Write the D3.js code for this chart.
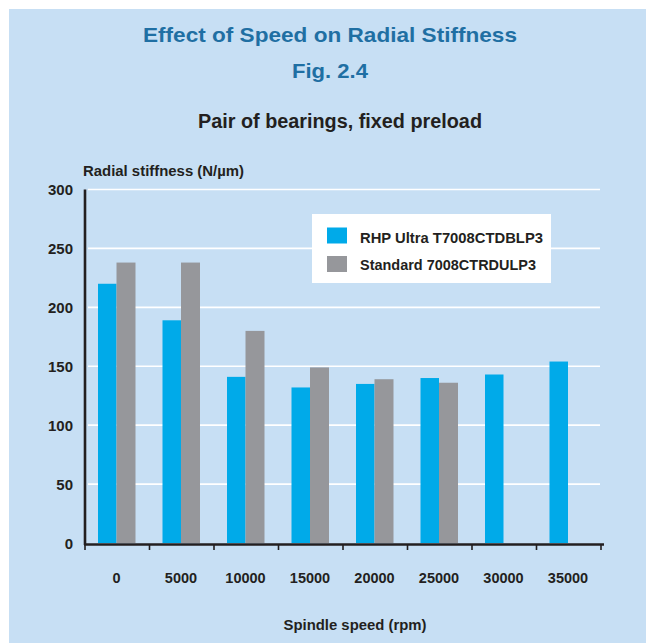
<!DOCTYPE html>
<html>
<head>
<meta charset="utf-8">
<script src="https://cdn.jsdelivr.net/npm/d3@7"></script>
<style>
  html, body { margin: 0; padding: 0; background: #ffffff; }
  svg { display: block; }
  text { font-family: "Liberation Sans", Arial, sans-serif; font-weight: bold; }
</style>
</head>
<body>
<svg id="chart" width="646" height="643"></svg>
<script>
// Radial stiffness (N/µm) of a bearing pair at each spindle speed
const speeds = ["0", "5000", "10000", "15000", "20000", "25000", "30000", "35000"];
const rhpUltra = [220, 189, 141, 132, 135, 140, 143, 154];
const standard = [238, 238, 180, 149, 139, 136, null, null];
const yTicks = [0, 50, 100, 150, 200, 250, 300];
const seriesNames = ["RHP Ultra T7008CTDBLP3", "Standard 7008CTRDULP3"];
const seriesColors = ["#00aae9", "#96979b"];

const svg = d3.select("#chart");

// Panel background
svg.append("rect")
  .attr("x", 9).attr("y", 9)
  .attr("width", 637).attr("height", 634)
  .attr("fill", "#c7dff4");

// Titles
svg.append("text").attr("x", 330).attr("y", 41.5)
  .attr("text-anchor", "middle").attr("font-size", 21)
  .attr("fill", "#1f6fa3").attr("textLength", 374).attr("lengthAdjust", "spacingAndGlyphs")
  .text("Effect of Speed on Radial Stiffness");
svg.append("text").attr("x", 330).attr("y", 77.5)
  .attr("text-anchor", "middle").attr("font-size", 21)
  .attr("fill", "#1f6fa3").attr("textLength", 76).attr("lengthAdjust", "spacingAndGlyphs")
  .text("Fig. 2.4");
svg.append("text").attr("x", 340).attr("y", 127.5)
  .attr("text-anchor", "middle").attr("font-size", 20)
  .attr("fill", "#231f20").attr("textLength", 284).attr("lengthAdjust", "spacingAndGlyphs")
  .text("Pair of bearings, fixed preload");

// Scales
const x = d3.scaleBand().domain(speeds).range([85, 601]);
const y = d3.scaleLinear().domain([0, 300]).range([543, 189.5]);
const barW = 18.5;
const barOffset = 13;

// Gridlines
svg.append("g").selectAll("line")
  .data(yTicks.filter(d => d > 0))
  .join("line")
  .attr("x1", 88).attr("x2", 600)
  .attr("y1", d => y(d)).attr("y2", d => y(d))
  .attr("stroke", "#ffffff").attr("stroke-width", 1.6);

// Bars
const bars = svg.append("g");
bars.selectAll("rect.rhp")
  .data(speeds.map((s, i) => ({ s, v: rhpUltra[i] })))
  .join("rect").attr("class", "rhp")
  .attr("x", d => x(d.s) + barOffset)
  .attr("width", barW)
  .attr("y", d => y(d.v))
  .attr("height", d => y(0) - y(d.v))
  .attr("fill", seriesColors[0]);
bars.selectAll("rect.std")
  .data(speeds.map((s, i) => ({ s, v: standard[i] })).filter(d => d.v != null))
  .join("rect").attr("class", "std")
  .attr("x", d => x(d.s) + barOffset + barW)
  .attr("width", barW + 0.5)
  .attr("y", d => y(d.v))
  .attr("height", d => y(0) - y(d.v))
  .attr("fill", seriesColors[1]);

// Y axis
const yAxis = svg.append("g");
yAxis.append("line")
  .attr("x1", 85).attr("x2", 85)
  .attr("y1", y(300)).attr("y2", y(0) + 2)
  .attr("stroke", "#231f20").attr("stroke-width", 2.6);
yAxis.selectAll("text")
  .data(yTicks)
  .join("text")
  .attr("x", 73).attr("y", d => y(d) + 5.5)
  .attr("text-anchor", "end").attr("font-size", 15)
  .attr("fill", "#231f20")
  .text(d => d);

// X axis
const xAxis = svg.append("g");
xAxis.append("line")
  .attr("x1", 84).attr("x2", 604)
  .attr("y1", y(0) + 1.5).attr("y2", y(0) + 1.5)
  .attr("stroke", "#231f20").attr("stroke-width", 2.6);
const tickPos = speeds.map(s => x(s)).concat([x.range()[1]]);
xAxis.selectAll("line.tick")
  .data(tickPos)
  .join("line").attr("class", "tick")
  .attr("x1", d => d).attr("x2", d => d)
  .attr("y1", y(0) + 1.5).attr("y2", y(0) + 7)
  .attr("stroke", "#231f20").attr("stroke-width", 1.6);
xAxis.selectAll("text")
  .data(speeds)
  .join("text")
  .attr("x", d => x(d) + barOffset + barW)
  .attr("y", 582.5)
  .attr("text-anchor", "middle").attr("font-size", 14.5)
  .attr("fill", "#231f20")
  .text(d => d);

// Axis titles
svg.append("text").attr("x", 83).attr("y", 176)
  .attr("font-size", 15).attr("fill", "#231f20")
  .attr("textLength", 161).attr("lengthAdjust", "spacingAndGlyphs")
  .text("Radial stiffness (N/\u00b5m)");
svg.append("text").attr("x", 355).attr("y", 630)
  .attr("text-anchor", "middle").attr("font-size", 15)
  .attr("fill", "#231f20").attr("textLength", 143).attr("lengthAdjust", "spacingAndGlyphs")
  .text("Spindle speed (rpm)");

// Legend
const legend = svg.append("g");
legend.append("rect")
  .attr("x", 312).attr("y", 214)
  .attr("width", 239).attr("height", 69)
  .attr("fill", "#ffffff");
const legendWidths = [183, 176];
seriesNames.forEach((name, i) => {
  legend.append("rect")
    .attr("x", 327).attr("y", 227.5 + i * 28.5)
    .attr("width", 20).attr("height", 16)
    .attr("fill", seriesColors[i]);
  legend.append("text")
    .attr("x", 360).attr("y", 242.5 + i * 27)
    .attr("font-size", 14.7).attr("fill", "#231f20")
    .attr("textLength", legendWidths[i]).attr("lengthAdjust", "spacingAndGlyphs")
    .text(name);
});
</script>
</body>
</html>
